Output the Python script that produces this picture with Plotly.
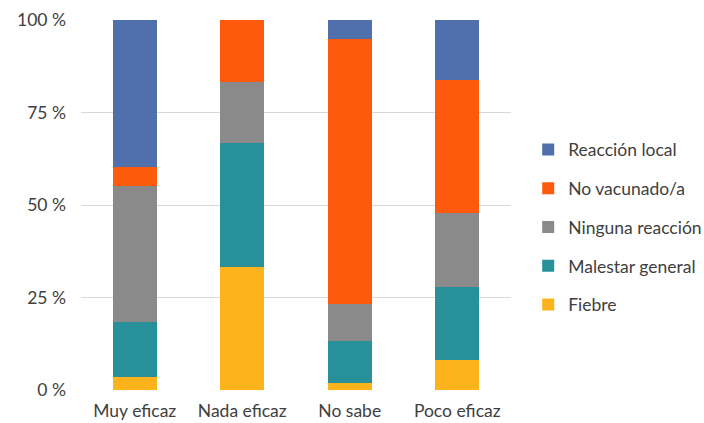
import plotly.graph_objects as go

# Opinion on vaccine efficacy vs. reaction after vaccination (share of respondents, %)
categorias = ["Muy eficaz", "Nada eficaz", "No sabe", "Poco eficaz"]

fiebre = [3.6, 33.3, 2.0, 8.1]
malestar_general = [14.9, 33.4, 11.3, 19.8]
ninguna_reaccion = [36.7, 16.6, 9.9, 20.0]
no_vacunado = [5.0, 16.7, 71.6, 35.9]
reaccion_local = [39.8, 0.0, 5.2, 16.2]

ticks_y = [0, 25, 50, 75, 100]
ticks_y_texto = ["0 %", "25 %", "50 %", "75 %", "100 %"]

# stacked bottom to top; legend lists them top to bottom
series = [
    ("Fiebre", fiebre, "#fcb31c"),
    ("Malestar general", malestar_general, "#279098"),
    ("Ninguna reacción", ninguna_reaccion, "#8a8a8a"),
    ("No vacunado/a", no_vacunado, "#fe5a0e"),
    ("Reacción local", reaccion_local, "#4f6fad"),
]

fig = go.Figure()
for i, (nombre, valores, color) in enumerate(series):
    fig.add_trace(go.Bar(
        x=categorias, y=valores, name=nombre, legendgroup=nombre,
        legendrank=1000 - i,
        marker=dict(color=color, line=dict(width=0)),
        hovertemplate="%{x}<br>" + nombre + ": %{y:.1f} %<extra></extra>",
    ))

font_fam = "Lato, 'Open Sans', sans-serif"
fsize = 17.5
fig.update_layout(
    barmode="stack",
    bargap=0.59,
    width=704, height=423,
    margin=dict(l=81, r=193, t=20, b=33, autoexpand=False),
    paper_bgcolor="white", plot_bgcolor="white",
    font=dict(family=font_fam, size=fsize, color="#404040"),
    legend=dict(
        x=1.04, xanchor="left", y=0.44, yanchor="middle",
        traceorder="grouped", tracegroupgap=13,
        font=dict(size=fsize, color="#404040"),
        itemclick=False,
    ),
    xaxis=dict(showgrid=False, showline=False, ticks="", ticklabelstandoff=8,
               automargin=False, tickfont=dict(size=fsize, color="#404040")),
    yaxis=dict(range=[0, 100], tickvals=ticks_y, ticktext=ticks_y_texto,
               showgrid=True, gridcolor="#d9d9d9", gridwidth=1, zeroline=False,
               showline=False, ticks="", ticklabelstandoff=14, automargin=False,
               tickfont=dict(size=fsize, color="#404040")),
)

fig.write_html("out.html")
